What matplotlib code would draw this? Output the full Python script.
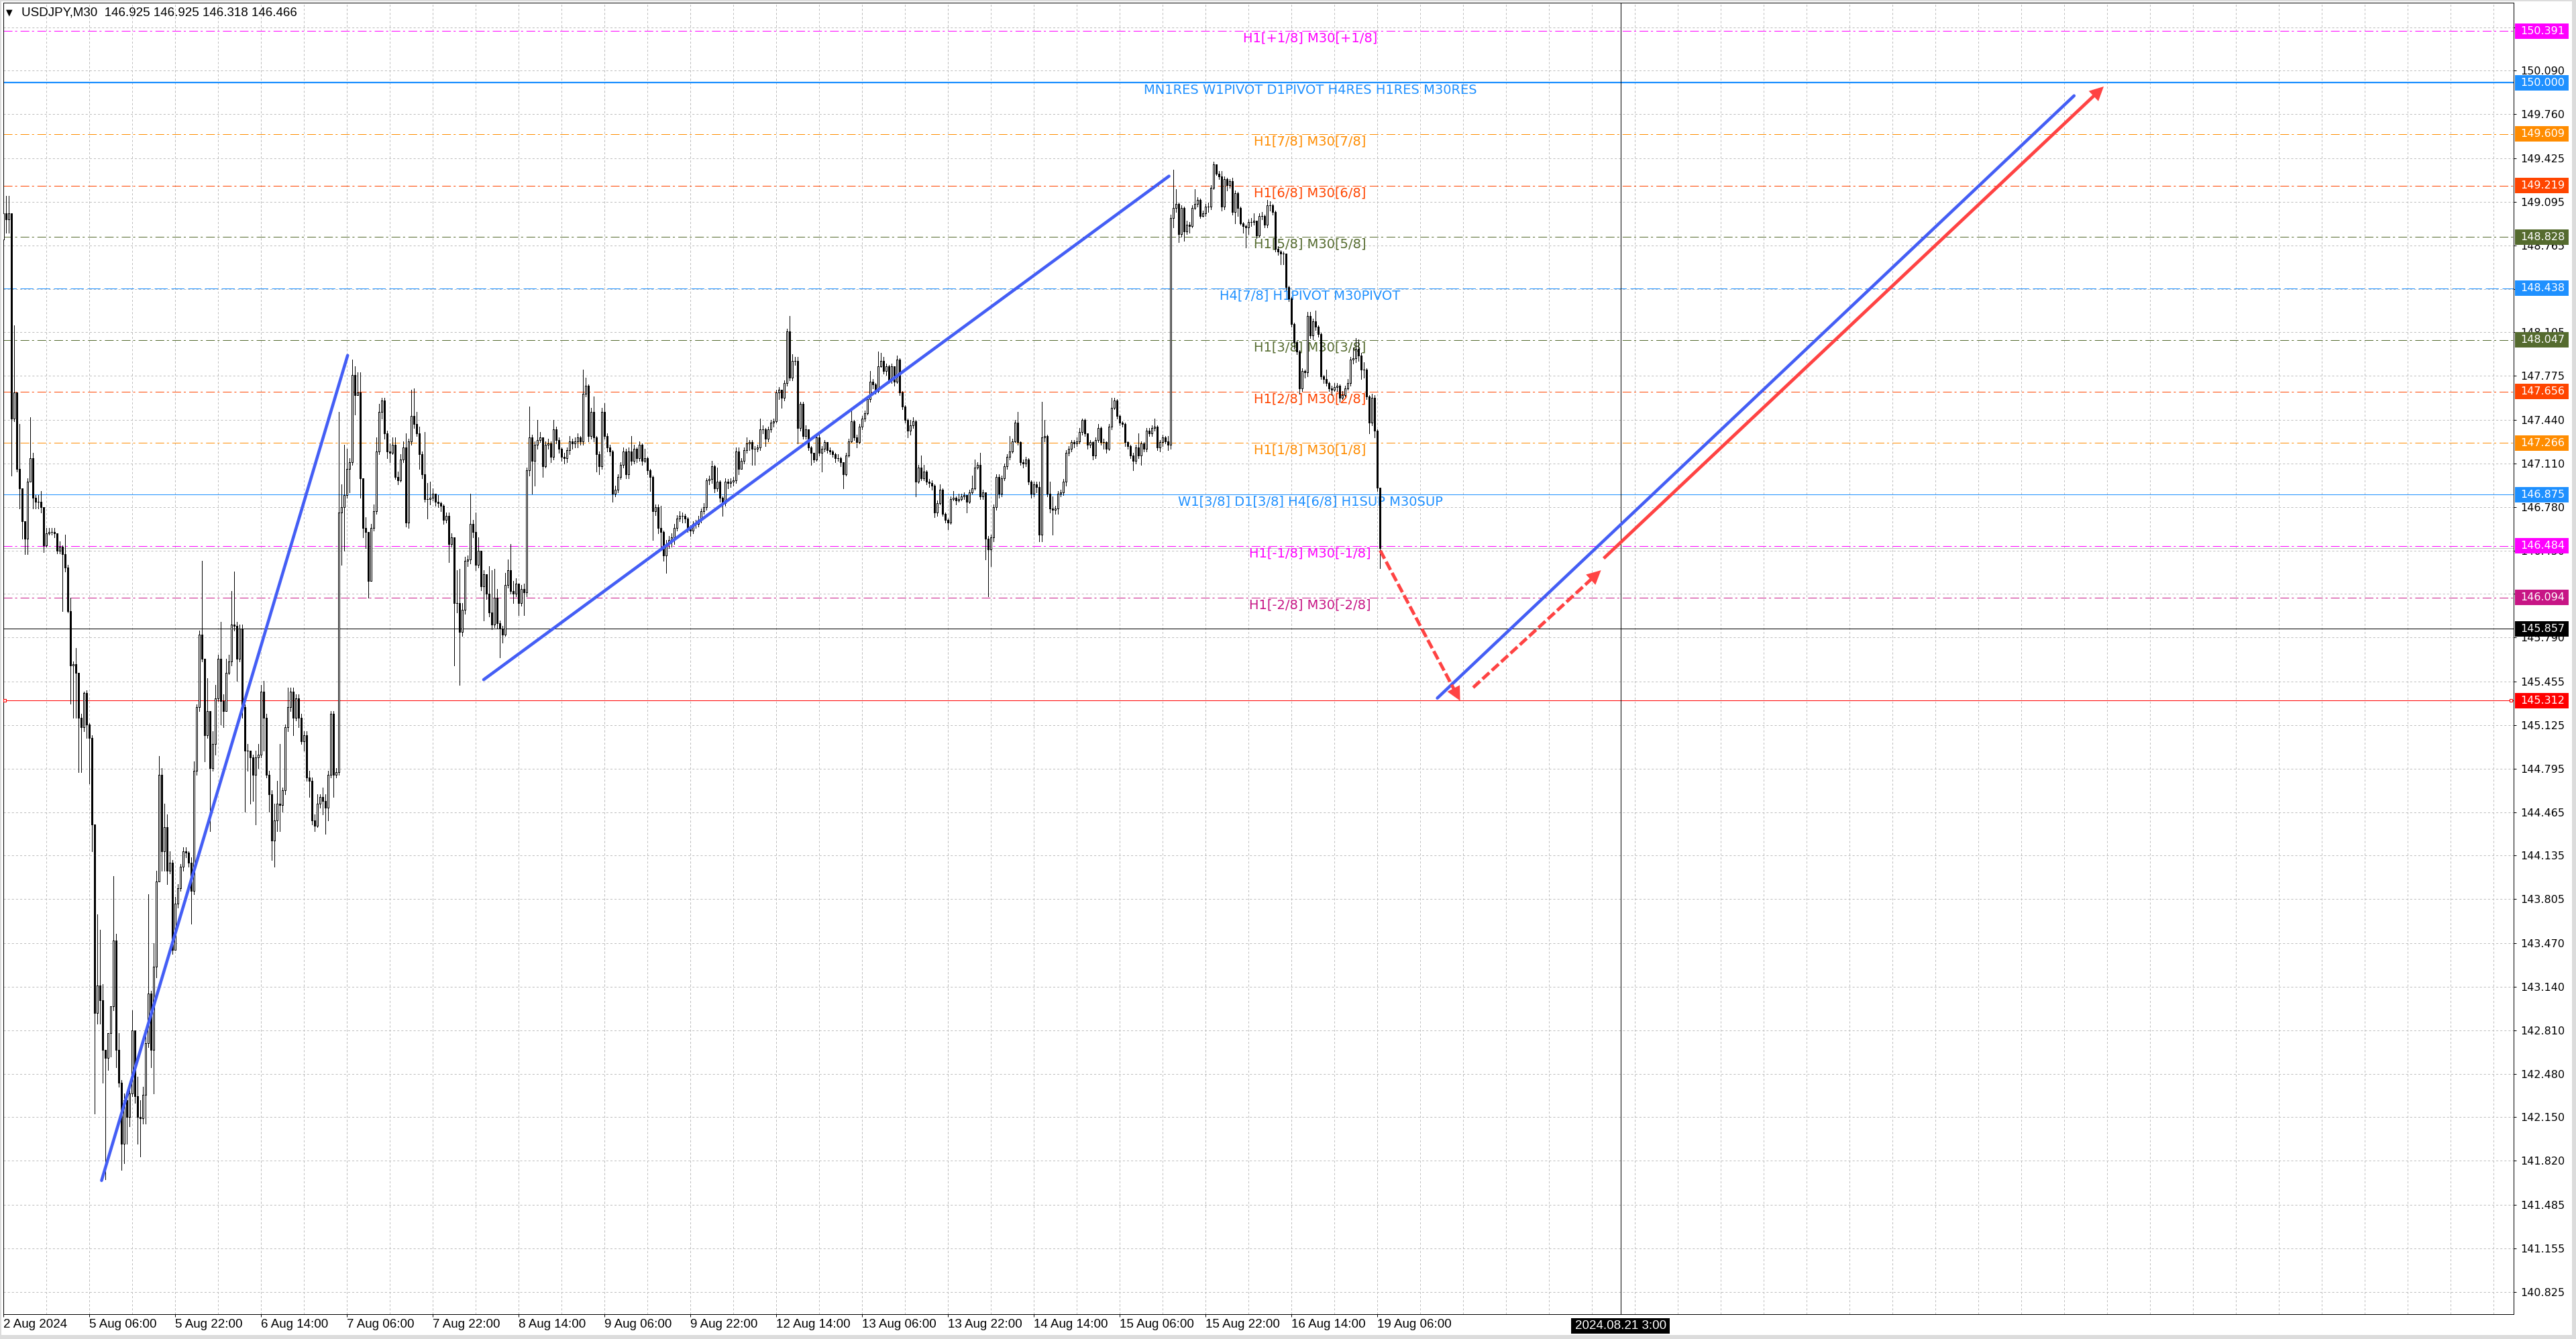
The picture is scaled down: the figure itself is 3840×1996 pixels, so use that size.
import numpy as np
import matplotlib
matplotlib.use("Agg")
import matplotlib.pyplot as plt
from matplotlib.patches import Rectangle
from matplotlib import transforms

# ---------------- data ----------------
header_text = "USDJPY,M30  146.925 146.925 146.318 146.466"

first_open = 148.81
# M30 closes, bar 0 .. 513
closes = [
    149.01, 148.96, 149.01, 147.45, 147.65, 147.07, 146.92, 146.67, 146.54, 146.97,
    147.15, 146.85, 146.82, 146.82, 146.78, 146.49, 146.58, 146.59, 146.59, 146.58,
    146.45, 146.48, 146.42, 146.32, 145.99, 145.58, 145.59, 145.52, 145.18, 145.11,
    145.37, 145.13, 145.03, 144.37, 142.94, 143.15, 143.04, 142.66, 142.60, 142.79,
    142.99, 143.49, 142.66, 142.41, 141.95, 142.28, 142.15, 142.33, 142.81, 142.31,
    142.15, 142.14, 142.32, 142.71, 143.09, 142.66, 143.29, 143.94, 144.75, 144.17,
    144.35, 144.02, 144.08, 143.42, 143.77, 143.89, 144.05, 144.17, 144.16, 144.08,
    143.87, 144.78, 145.26, 145.81, 145.63, 145.05, 145.23, 144.80, 144.98, 145.33,
    145.63, 145.31, 145.23, 145.52, 145.61, 145.89, 145.88, 145.63, 145.86, 145.26,
    144.93, 144.93, 144.88, 144.75, 144.88, 144.90, 145.38, 145.18, 144.75, 144.60,
    144.25, 144.40, 144.53, 144.52, 144.63, 145.11, 145.26, 145.38, 145.18, 145.33,
    145.18, 145.00, 145.05, 144.73, 144.70, 144.40, 144.36, 144.53, 144.58, 144.55,
    144.50, 144.75, 145.21, 144.75, 144.77, 146.74, 146.78, 146.87, 147.07, 147.12,
    147.78, 147.63, 147.65, 147.00, 146.62, 146.59, 146.22, 146.62, 146.75, 147.20,
    147.50, 147.59, 147.34, 147.20, 147.19, 147.25, 147.01, 146.98, 147.14, 147.23,
    146.66, 147.28, 147.47, 147.41, 147.34, 147.18, 147.03, 146.84, 146.84, 146.85,
    146.88, 146.82, 146.81, 146.79, 146.68, 146.71, 146.50, 146.55, 146.05, 146.05,
    145.83, 146.00, 146.37, 146.38, 146.65, 146.59, 146.34, 146.45, 146.18, 146.27,
    146.12, 145.98, 145.89, 146.09, 145.90, 145.86, 145.81, 146.19, 146.30, 146.14,
    146.12, 146.20, 146.05, 146.16, 146.13, 147.06, 147.31, 147.13, 147.25, 147.29,
    147.31, 147.09, 147.25, 147.26, 147.16, 147.37, 147.29, 147.22, 147.16, 147.15,
    147.21, 147.28, 147.26, 147.28, 147.31, 147.28, 147.64, 147.70, 147.32, 147.50,
    147.31, 147.18, 147.09, 147.50, 147.32, 147.23, 147.20, 146.88, 146.91, 147.01,
    147.10, 147.20, 147.03, 147.20, 147.13, 147.22, 147.15, 147.25, 147.13, 147.15,
    147.06, 147.01, 146.75, 146.78, 146.62, 146.59, 146.41, 146.50, 146.53, 146.55,
    146.62, 146.69, 146.71, 146.71, 146.69, 146.62, 146.60, 146.65, 146.65, 146.68,
    146.75, 146.78, 146.98, 146.99, 147.09, 146.92, 146.97, 146.85, 146.81, 146.97,
    146.96, 146.97, 146.98, 147.20, 147.07, 147.13, 147.21, 147.26, 147.27, 147.22,
    147.22, 147.23, 147.37, 147.37, 147.30, 147.37, 147.42, 147.43, 147.65, 147.67,
    147.61, 147.72, 148.11, 147.76, 147.89, 147.89, 147.38, 147.56, 147.32, 147.37,
    147.23, 147.19, 147.14, 147.31, 147.19, 147.22, 147.27, 147.21, 147.20, 147.18,
    147.15, 147.15, 147.12, 147.03, 147.17, 147.28, 147.43, 147.31, 147.27, 147.39,
    147.45, 147.49, 147.60, 147.73, 147.71, 147.66, 147.85, 147.89, 147.81, 147.85,
    147.74, 147.85, 147.73, 147.90, 147.65, 147.54, 147.44, 147.36, 147.40, 147.43,
    146.97, 147.08, 147.00, 147.05, 146.97, 146.96, 146.94, 146.74, 146.81, 146.91,
    146.73, 146.68, 146.66, 146.84, 146.85, 146.83, 146.84, 146.86, 146.87, 146.82,
    146.89, 146.92, 147.08, 147.10, 146.86, 146.89, 146.54, 146.46, 146.55, 146.78,
    147.01, 146.88, 147.00, 147.09, 147.16, 147.20, 147.28, 147.42, 147.27, 147.12,
    147.11, 147.14, 146.97, 146.88, 146.95, 146.93, 146.57, 147.31, 147.32, 146.88,
    146.77, 146.76, 146.77, 146.88, 146.89, 146.97, 147.19, 147.22, 147.27, 147.26,
    147.28, 147.35, 147.44, 147.34, 147.25, 147.27, 147.17, 147.29, 147.38, 147.27,
    147.27, 147.22, 147.39, 147.53, 147.59, 147.47, 147.42, 147.41, 147.27, 147.24,
    147.17, 147.13, 147.23, 147.17, 147.26, 147.22, 147.36, 147.34, 147.38, 147.39,
    147.23, 147.27, 147.31, 147.28, 147.25, 148.97, 149.05, 149.08, 148.85, 149.05,
    148.87, 148.92, 148.91, 149.05, 149.08, 149.11, 148.99, 149.01, 149.06, 149.06,
    149.20, 149.38, 149.31, 149.29, 149.06, 149.27, 149.22, 149.25, 149.02, 149.16,
    149.05, 148.93, 148.91, 148.90, 148.94, 148.94, 148.95, 148.84, 148.99, 148.99,
    148.92, 149.07, 149.07, 149.02, 148.74, 148.72, 148.70, 148.70, 148.45, 148.36,
    148.17, 148.03, 147.96, 147.68, 147.81, 147.80, 148.23, 148.08, 148.19, 148.15,
    148.09, 147.77, 147.75, 147.72, 147.68, 147.67, 147.69, 147.70, 147.61, 147.63,
    147.68, 147.72, 147.90, 147.91, 147.98, 147.93, 147.82, 147.82, 147.62, 147.42,
    147.61, 147.36, 146.925, 146.466,
]
highs = [
    149.11, 149.14, 149.14, 149.01, 148.16, 147.65, 147.41, 146.90, 146.67, 147.00,
    147.46, 147.19, 146.87, 146.87, 146.90, 146.78, 146.62, 146.62, 146.62, 146.62,
    146.58, 146.52, 146.49, 146.57, 146.34, 146.09, 145.61, 145.71, 145.51, 145.21,
    145.38, 145.39, 145.14, 145.05, 144.37, 143.69, 143.57, 143.16, 142.66, 142.79,
    142.99, 143.98, 143.54, 142.79, 142.43, 142.33, 142.31, 142.38, 142.96, 142.81,
    142.46, 142.28, 142.38, 142.81, 143.84, 143.11, 143.47, 144.02, 144.89, 144.80,
    144.53, 144.45, 144.17, 144.10, 143.82, 143.92, 144.07, 144.20, 144.20, 144.17,
    144.12, 144.85, 145.28, 145.84, 146.37, 145.63, 145.48, 145.23, 145.08, 145.43,
    145.66, 145.91, 145.36, 145.63, 145.66, 146.14, 146.29, 145.91, 145.89, 145.89,
    145.28, 144.98, 144.93, 144.90, 144.93, 144.98, 145.43, 145.46, 145.21, 144.78,
    144.63, 144.53, 144.70, 144.98, 144.65, 145.13, 145.41, 145.41, 145.41, 145.36,
    145.36, 145.21, 145.08, 145.08, 144.78, 144.73, 144.45, 144.60, 144.60, 144.65,
    144.60, 144.78, 145.23, 145.23, 144.80, 147.50, 146.95, 147.25, 147.22, 147.15,
    147.90, 147.85, 147.80, 147.80, 146.98, 146.70, 146.59, 146.65, 146.80, 147.31,
    147.56, 147.61, 147.61, 147.36, 147.26, 147.31, 147.31, 147.05, 147.18, 147.28,
    147.34, 147.30, 147.67, 147.68, 147.50, 147.39, 147.20, 147.35, 146.96, 146.97,
    146.92, 146.88, 146.87, 146.82, 146.80, 146.74, 146.74, 146.58, 146.55, 146.30,
    146.31, 146.05, 146.40, 146.41, 146.88, 146.68, 146.74, 146.55, 146.45, 146.30,
    146.27, 146.33, 146.30, 146.31, 146.16, 145.92, 145.88, 146.28, 146.38, 146.50,
    146.22, 146.24, 146.20, 146.19, 146.20, 147.08, 147.54, 147.33, 147.28, 147.44,
    147.35, 147.31, 147.28, 147.30, 147.28, 147.44, 147.39, 147.31, 147.23, 147.19,
    147.23, 147.32, 147.30, 147.31, 147.34, 147.32, 147.82, 147.76, 147.71, 147.53,
    147.62, 147.32, 147.20, 147.53, 147.57, 147.34, 147.25, 147.21, 146.94, 147.03,
    147.12, 147.23, 147.22, 147.23, 147.32, 147.25, 147.23, 147.28, 147.26, 147.22,
    147.16, 147.07, 147.02, 146.80, 146.80, 146.79, 146.60, 146.53, 146.56, 146.58,
    146.65, 146.72, 146.75, 146.74, 146.73, 146.70, 146.64, 146.67, 146.68, 146.71,
    146.77, 146.81, 147.00, 147.02, 147.13, 147.10, 147.08, 146.98, 146.86, 147.00,
    146.99, 147.00, 147.01, 147.23, 147.23, 147.15, 147.23, 147.31, 147.29, 147.29,
    147.24, 147.25, 147.45, 147.40, 147.38, 147.39, 147.44, 147.45, 147.67, 147.69,
    147.66, 147.74, 148.13, 148.23, 147.94, 147.92, 147.92, 147.58, 147.58, 147.40,
    147.37, 147.24, 147.19, 147.33, 147.33, 147.24, 147.29, 147.27, 147.23, 147.21,
    147.19, 147.18, 147.16, 147.12, 147.19, 147.30, 147.52, 147.44, 147.33, 147.41,
    147.47, 147.51, 147.62, 147.81, 147.75, 147.72, 147.96, 147.95, 147.92, 147.87,
    147.86, 147.87, 147.84, 147.93, 147.91, 147.66, 147.55, 147.45, 147.44, 147.46,
    147.44, 147.10, 147.17, 147.10, 147.06, 146.99, 146.98, 146.95, 146.83, 146.95,
    146.92, 146.74, 146.69, 146.86, 146.90, 146.86, 146.88, 146.88, 146.89, 146.87,
    146.91, 147.02, 147.14, 147.12, 147.19, 146.91, 146.89, 146.56, 146.57, 146.80,
    147.03, 147.03, 147.02, 147.11, 147.18, 147.32, 147.30, 147.44, 147.50, 147.28,
    147.14, 147.16, 147.15, 146.98, 146.97, 146.97, 146.97, 147.58, 147.44, 147.33,
    146.97, 146.86, 146.79, 146.90, 146.91, 146.99, 147.21, 147.24, 147.29, 147.29,
    147.31, 147.38, 147.45, 147.45, 147.34, 147.29, 147.28, 147.31, 147.41, 147.39,
    147.30, 147.28, 147.41, 147.61, 147.61, 147.60, 147.48, 147.43, 147.42, 147.28,
    147.25, 147.19, 147.25, 147.34, 147.28, 147.27, 147.38, 147.38, 147.40, 147.45,
    147.40, 147.29, 147.33, 147.32, 147.32, 149.00, 149.34, 149.19, 149.09, 149.07,
    149.06, 148.95, 148.94, 149.07, 149.19, 149.13, 149.12, 149.03, 149.08, 149.09,
    149.22, 149.40, 149.37, 149.33, 149.33, 149.29, 149.28, 149.27, 149.28, 149.18,
    149.17, 149.06, 148.94, 148.92, 148.96, 148.97, 149.01, 148.95, 149.01, 149.02,
    149.00, 149.11, 149.10, 149.08, 149.03, 148.76, 148.73, 148.72, 148.70, 148.46,
    148.37, 148.18, 148.04, 147.97, 147.83, 147.82, 148.26, 148.26, 148.21, 148.27,
    148.16, 148.10, 147.78, 147.82, 147.73, 147.70, 147.72, 147.72, 147.71, 147.66,
    147.70, 147.75, 147.92, 147.99, 148.06, 148.05, 147.95, 147.88, 147.83, 147.63,
    147.64, 147.63, 147.37, 146.925,
]
lows = [
    148.81, 148.86, 148.86, 147.02, 147.43, 147.05, 146.77, 146.54, 146.42, 146.42,
    146.97, 146.77, 146.77, 146.77, 146.74, 146.44, 146.48, 146.57, 146.57, 146.55,
    146.43, 146.43, 145.99, 146.29, 145.98, 145.29, 145.18, 145.18, 144.77, 144.77,
    145.08, 145.03, 144.68, 144.17, 142.18, 142.86, 142.86, 142.41, 141.68, 142.51,
    142.61, 142.96, 142.53, 142.38, 141.75, 141.80, 141.95, 142.08, 142.31, 142.26,
    141.95, 141.85, 142.10, 142.10, 142.68, 142.53, 142.33, 143.21, 143.94, 144.02,
    144.02, 143.92, 144.00, 143.39, 143.44, 143.74, 143.87, 144.02, 144.12, 144.05,
    143.62, 143.84, 144.75, 145.23, 145.61, 144.85, 145.03, 144.32, 144.78, 144.90,
    145.31, 145.13, 145.11, 145.26, 145.51, 145.58, 145.84, 145.46, 145.61, 145.18,
    144.47, 144.78, 144.53, 144.55, 144.37, 144.80, 144.88, 144.93, 144.73, 144.47,
    144.10, 144.05, 144.32, 144.32, 144.47, 144.60, 145.08, 145.23, 145.05, 145.16,
    145.11, 144.98, 144.93, 144.70, 144.58, 144.37, 144.32, 144.35, 144.50, 144.45,
    144.30, 144.40, 144.73, 144.58, 144.73, 144.75, 146.34, 146.45, 146.85, 146.89,
    147.10, 147.48, 147.63, 146.85, 146.55, 146.47, 146.09, 146.22, 146.60, 146.73,
    147.18, 147.45, 147.30, 147.15, 147.12, 147.18, 146.99, 146.95, 146.97, 147.12,
    146.63, 146.62, 147.25, 147.38, 147.32, 147.07, 147.00, 146.82, 146.69, 146.80,
    146.83, 146.79, 146.78, 146.75, 146.65, 146.66, 146.36, 146.48, 145.58, 145.98,
    145.43, 145.80, 145.97, 146.33, 146.35, 146.55, 146.30, 146.32, 146.15, 145.92,
    146.08, 145.95, 145.85, 145.87, 145.86, 145.64, 145.75, 145.80, 146.17, 146.12,
    146.05, 146.10, 145.96, 146.03, 145.96, 146.10, 147.02, 146.88, 146.94, 147.22,
    147.27, 147.01, 147.08, 147.22, 147.12, 147.14, 147.26, 147.19, 147.13, 147.11,
    147.12, 147.18, 147.22, 147.23, 147.23, 147.25, 147.25, 147.62, 147.28, 147.30,
    147.28, 147.05, 147.03, 147.07, 147.30, 147.20, 147.17, 146.82, 146.86, 146.89,
    146.99, 147.08, 147.00, 147.00, 147.10, 147.11, 147.12, 147.13, 147.10, 147.12,
    147.03, 146.90, 146.53, 146.72, 146.58, 146.47, 146.37, 146.28, 146.47, 146.48,
    146.50, 146.60, 146.67, 146.66, 146.66, 146.59, 146.56, 146.58, 146.62, 146.63,
    146.66, 146.73, 146.76, 146.95, 146.96, 146.89, 146.90, 146.82, 146.71, 146.79,
    146.92, 146.93, 146.94, 146.96, 147.03, 147.07, 147.11, 147.19, 147.21, 147.10,
    147.10, 147.20, 147.21, 147.34, 147.24, 147.28, 147.35, 147.39, 147.42, 147.60,
    147.53, 147.59, 147.70, 147.74, 147.74, 147.86, 147.26, 147.36, 147.30, 147.30,
    147.21, 147.10, 147.12, 147.13, 147.17, 147.05, 147.20, 147.19, 147.18, 147.16,
    147.12, 147.13, 147.09, 146.92, 147.02, 147.16, 147.27, 147.29, 147.23, 147.26,
    147.37, 147.43, 147.48, 147.58, 147.68, 147.64, 147.65, 147.84, 147.79, 147.78,
    147.72, 147.72, 147.70, 147.72, 147.63, 147.52, 147.42, 147.31, 147.33, 147.38,
    146.86, 146.96, 146.98, 146.98, 146.95, 146.93, 146.91, 146.70, 146.71, 146.80,
    146.71, 146.66, 146.61, 146.65, 146.83, 146.80, 146.82, 146.83, 146.84, 146.74,
    146.81, 146.88, 146.91, 147.07, 146.84, 146.84, 146.38, 146.10, 146.33, 146.52,
    146.76, 146.85, 146.86, 146.98, 147.07, 147.14, 147.19, 147.27, 147.25, 147.10,
    147.08, 147.09, 146.95, 146.85, 146.86, 146.89, 146.52, 146.52, 147.28, 146.86,
    146.74, 146.57, 146.73, 146.73, 146.86, 146.87, 146.94, 147.17, 147.20, 147.23,
    147.24, 147.26, 147.33, 147.32, 147.22, 147.23, 147.14, 147.15, 147.27, 147.25,
    147.22, 147.19, 147.21, 147.37, 147.52, 147.45, 147.40, 147.39, 147.24, 147.22,
    147.15, 147.06, 147.11, 147.15, 147.10, 147.20, 147.20, 147.32, 147.32, 147.36,
    147.21, 147.20, 147.24, 147.26, 147.21, 147.22, 148.90, 149.02, 148.79, 148.83,
    148.80, 148.85, 148.86, 148.90, 149.04, 149.06, 148.97, 148.98, 148.99, 149.02,
    149.04, 149.19, 149.30, 149.27, 149.03, 149.04, 149.18, 149.20, 149.00, 148.93,
    148.99, 148.92, 148.86, 148.75, 148.85, 148.91, 148.92, 148.82, 148.83, 148.96,
    148.90, 148.90, 149.03, 149.00, 148.72, 148.69, 148.62, 148.62, 148.43, 148.34,
    148.15, 147.98, 147.94, 147.64, 147.66, 147.76, 147.77, 148.06, 148.05, 148.12,
    148.07, 147.75, 147.72, 147.70, 147.66, 147.63, 147.66, 147.66, 147.58, 147.60,
    147.62, 147.67, 147.70, 147.87, 147.88, 147.89, 147.75, 147.76, 147.60, 147.34,
    147.40, 147.31, 146.90, 146.318,
]

x_tick_bars = list(range(0, 513, 32))
x_tick_labels = ["2 Aug 2024", "5 Aug 06:00", "5 Aug 22:00", "6 Aug 14:00", "7 Aug 06:00",
                 "7 Aug 22:00", "8 Aug 14:00", "9 Aug 06:00", "9 Aug 22:00", "12 Aug 14:00",
                 "13 Aug 06:00", "13 Aug 22:00", "14 Aug 14:00", "15 Aug 06:00",
                 "15 Aug 22:00", "16 Aug 14:00", "19 Aug 06:00"]
y_tick_values = [150.420, 150.090, 149.760, 149.425, 149.095, 148.765, 148.435, 148.105,
                 147.775, 147.440, 147.110, 146.780, 146.450, 146.120, 145.790, 145.455,
                 145.125, 144.795, 144.465, 144.135, 143.805, 143.470, 143.140, 142.810,
                 142.480, 142.150, 141.820, 141.485, 141.155, 140.825]

level_prices = [150.391, 150.000, 149.609, 149.219, 148.828, 148.438,
                148.047, 147.656, 147.266, 146.875, 146.484, 146.094]
level_names = ["H1[+1/8] M30[+1/8]", "MN1RES W1PIVOT D1PIVOT H4RES H1RES M30RES",
               "H1[7/8] M30[7/8]", "H1[6/8] M30[6/8]", "H1[5/8] M30[5/8]",
               "H4[7/8] H1PIVOT M30PIVOT", "H1[3/8] M30[3/8]", "H1[2/8] M30[2/8]",
               "H1[1/8] M30[1/8]", "W1[3/8] D1[3/8] H4[6/8] H1SUP M30SUP",
               "H1[-1/8] M30[-1/8]", "H1[-2/8] M30[-2/8]"]

bid_price = 146.466
cross_price = 145.857
cross_bar = 602.7
cross_label = "2024.08.21 3:00"
alert_price = 145.312

# hand drawn objects: (bar, price) end points
blue_lines = [((36.6, 141.67), (128.3, 147.93)),
              ((179.0, 145.47), (434.4, 149.29)),
              ((534.4, 145.33), (771.7, 149.90))]
red_arrows = [((596.4, 146.39), (782.75, 149.97), False),
              ((513.1, 146.45), (542.9, 145.31), True),
              ((547.75, 145.41), (595.4, 146.30), True)]

# ---------------- styles / layout ----------------
MAGENTA, DBLUE, DORANGE, ORED = "#FF00FF", "#1E90FF", "#FF8C00", "#FF4500"
OLIVE, MVRED = "#556B2F", "#C71585"
level_colors = [MAGENTA, DBLUE, DORANGE, ORED, OLIVE, DBLUE,
                OLIVE, ORED, DORANGE, DBLUE, MAGENTA, MVRED]
plt.rcParams["lines.scale_dashes"] = False
DASHDOT = (0, (9.4, 2.9, 2.2, 3.6))
DASH = (0, (14, 4))
GRID_LS = (0, (2.2, 2.2))
level_ls = [DASHDOT, "-", DASHDOT, DASHDOT, DASHDOT, DASH,
            DASHDOT, DASHDOT, DASHDOT, "-", DASHDOT, DASHDOT]
level_lw = [0.72, 1.6, 0.72, 0.72, 0.72, 0.72, 0.72, 0.72, 0.72, 0.72, 0.72, 0.72]
BLUE = "#445EF5"
RED = "#FF4343"
PX = 0.72            # one pixel in points at 100 dpi
LABEL_BAR = 487
W, H = 3840, 1996
UI_FONT = ["Liberation Sans", "DejaVu Sans"]

fig = plt.figure(figsize=(W / 100, H / 100), dpi=100)
fig.patch.set_facecolor("white")
ax = fig.add_axes([4.5 / W, 1 - 1959 / H, (3747 - 4.5) / W, (1959 - 4) / H])
ax.set_xlim(-0.125, 935.5)
ax.set_ylim(140.656, 150.606)
ax.set_facecolor("white")
for s in ax.spines.values():
    s.set_color("black")
    s.set_linewidth(PX)

# grid
ax.set_yticks(y_tick_values)
ax.set_yticklabels([f"{v:.3f}" for v in y_tick_values])
ax.set_xticks(x_tick_bars)
ax.set_xticklabels(x_tick_labels, ha="left", fontsize=13.5, fontfamily=UI_FONT)
ax.set_xticks(np.arange(0, 936, 16), minor=True)
ax.xaxis.remove_overlapping_locs = False
ax.grid(True, which="both", axis="x", color="#BDBDBD", lw=PX, ls=GRID_LS, zorder=0)
ax.grid(True, which="major", axis="y", color="#BDBDBD", lw=PX, ls=GRID_LS, zorder=0)
ax.set_axisbelow(True)
ax.yaxis.tick_right()
ax.tick_params(axis="y", which="major", direction="out", length=2.9, width=PX,
               pad=4.3, labelsize=11.5, colors="black")
ax.tick_params(axis="x", which="major", direction="out", length=2.9, width=PX,
               pad=2.2, colors="black")
ax.tick_params(axis="x", which="minor", length=0)

# levels
for p, name, col, ls, lw in zip(level_prices, level_names, level_colors, level_ls, level_lw):
    ax.axhline(p, color=col, lw=lw, ls=ls, zorder=1)
    ax.text(LABEL_BAR, p - 0.008, name, color=col, fontsize=14, ha="center",
            va="top", zorder=2)
ax.axhline(bid_price, color="#C0C0C0", lw=PX, zorder=1)
ax.axhline(alert_price, color="red", lw=PX, zorder=3)
ax.plot([0.6, 934.6], [alert_price, alert_price], ls="none", marker="s", ms=2.6,
        mfc="white", mec="red", mew=0.8, zorder=3, clip_on=False)

# candles
x = np.arange(len(closes))
c = np.array(closes)
o = np.concatenate([[first_open], c[:-1]])
h = np.maximum(np.array(highs), np.maximum(o, c))
l = np.minimum(np.array(lows), np.minimum(o, c))
up = c >= o
ax.vlines(x, l, h, color="black", lw=PX, zorder=4, antialiased=False)
lo = np.minimum(o, c)
hh = np.abs(c - o)
ax.bar(x[up], hh[up], bottom=lo[up], width=0.62, color="white", edgecolor="black",
       linewidth=PX, zorder=5, antialiased=False)
ax.bar(x[~up], hh[~up], bottom=lo[~up], width=0.62, color="black", edgecolor="black",
       linewidth=PX, zorder=5, antialiased=False)

# crosshair
ax.axvline(cross_bar, color="black", lw=PX, zorder=3)
ax.axhline(cross_price, color="black", lw=PX, zorder=3)

# trend lines
for (p0, p1) in blue_lines:
    ax.plot([p0[0], p1[0]], [p0[1], p1[1]], color=BLUE, lw=3.3,
            solid_capstyle="round", zorder=7)


def red_arrow(p0, p1, dashed):
    d0 = ax.transData.transform(p0)
    d1 = ax.transData.transform(p1)
    u = (d1 - d0) / np.hypot(*(d1 - d0))
    stop = ax.transData.inverted().transform(d1 - u * 14)
    ax.plot([p0[0], stop[0]], [p0[1], stop[1]], color=RED, lw=3.5,
            ls=(0, (10, 3.6)) if dashed else "-",
            solid_capstyle="butt", dash_capstyle="butt", zorder=7)
    ax.annotate("", xy=p1, xytext=p0, zorder=7,
                arrowprops=dict(arrowstyle="-|>,head_length=1.5,head_width=0.75",
                                mutation_scale=10, color=RED, lw=0,
                                shrinkA=0, shrinkB=0))


for p0, p1, dashed in red_arrows:
    red_arrow(p0, p1, dashed)

# price boxes on the right scale
blend = transforms.blended_transform_factory(fig.transFigure, ax.transData)
box_h = 23 / 196.5
box_prices = level_prices + [cross_price, alert_price]
box_colors = level_colors + ["black", "red"]
for p, col in zip(box_prices, box_colors):
    ax.add_patch(Rectangle((3749 / W, p - box_h / 2), 80 / W, box_h, transform=blend,
                           facecolor=col, edgecolor="none", clip_on=False, zorder=10))
    ax.text(3757 / W, p, f"{p:.3f}", transform=blend, color="white", fontsize=11.5,
            ha="left", va="center", zorder=11, clip_on=False)

# crosshair time label
xblend = ax.get_xaxis_transform()
ax.add_patch(Rectangle((cross_bar - 18.4, -0.0148), 36.8, 0.0118, transform=xblend,
                       facecolor="black", edgecolor="none", clip_on=False, zorder=10))
ax.text(cross_bar, -0.0089, cross_label, transform=xblend, color="white",
        fontsize=13.5, fontfamily=UI_FONT, ha="center", va="center", zorder=11,
        clip_on=False)

# header
fig.text(9 / W, 1 - 19 / H, "\u25BC", fontsize=9, ha="left", va="center", color="black")
fig.text(32 / W, 1 - 19 / H, header_text, fontsize=13.5, fontfamily=UI_FONT,
         ha="left", va="center", color="black")

# window border
for r in [(0, 0, 1, 6 / H), (1 - 6 / W, 0, 6 / W, 1), (0, 1 - 2 / H, 1, 2 / H), (0, 0, 2 / W, 1)]:
    fig.patches.append(Rectangle(r[:2], r[2], r[3], transform=fig.transFigure,
                                 facecolor="#DCDCDC", edgecolor="none"))

fig.savefig("out.png", dpi=100)
